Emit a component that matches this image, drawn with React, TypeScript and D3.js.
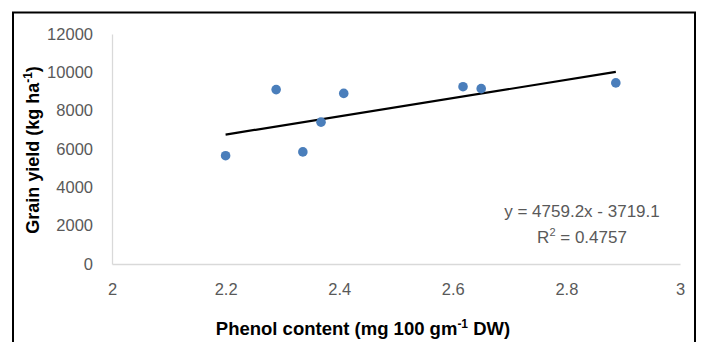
import * as d3 from 'd3';
import { useEffect, useRef } from 'react';

// phenol content (mg 100 gm-1 DW) vs grain yield (kg ha-1)
const phenol = [2.2, 2.289, 2.336, 2.368, 2.408, 2.618, 2.65, 2.887];
const grainYield = [5650, 9100, 5850, 7400, 8900, 9250, 9150, 9450];
const xTicks = [2, 2.2, 2.4, 2.6, 2.8, 3];
const yTicks = [0, 2000, 4000, 6000, 8000, 10000, 12000];
const slope = 4759.2;
const intercept = -3719.1;
const equationLabel = 'y = 4759.2x - 3719.1';
const r2Label = '0.4757';

const W = 701;
const H = 342;

const App = () => {
  const svgRef = useRef<SVGSVGElement>(null);

  useEffect(() => {
    const svg = d3.select(svgRef.current);
    svg.selectAll('*').remove();
    const font = "'Liberation Sans', Arial, sans-serif";

    const x = d3.scaleLinear([2, 3], [112, 680]);
    const y = d3.scaleLinear([0, 12000], [264, 34]);

    svg.append('rect').attr('width', W).attr('height', H).attr('fill', '#fff');
    // outer frame (bottom edge runs off the picture)
    svg.append('rect')
      .attr('x', 13).attr('y', 12.5)
      .attr('width', 682).attr('height', 360)
      .attr('fill', 'none').attr('stroke', '#000').attr('stroke-width', 2);

    // y axis
    svg.append('g')
      .attr('transform', `translate(${x(2)},0)`)
      .call(d3.axisLeft(y).tickValues(yTicks).tickSize(0).tickPadding(19).tickFormat(d3.format('d')))
      .call((g) => g.select('.domain').attr('stroke', '#d9d9d9').attr('stroke-width', 1.3))
      .call((g) => g.selectAll('.tick text').attr('font-size', 16.5).attr('font-family', font).attr('fill', '#595959'));

    // x axis
    svg.append('g')
      .attr('transform', `translate(0,${y(0)})`)
      .call(d3.axisBottom(x).tickValues(xTicks).tickSize(0).tickPadding(19).tickFormat(d3.format('~g')))
      .call((g) => g.select('.domain').attr('stroke', '#d9d9d9').attr('stroke-width', 1.3))
      .call((g) => g.selectAll('.tick text').attr('font-size', 16.5).attr('font-family', font).attr('fill', '#595959'));

    // trend line over the data range
    const [x0, x1] = d3.extent(phenol) as [number, number];
    const line = d3.line<number>().x((d) => x(d)).y((d) => y(slope * d + intercept));
    svg.append('path')
      .attr('d', line([x0, x1]))
      .attr('stroke', '#000').attr('stroke-width', 2.2).attr('fill', 'none');

    // points
    svg.append('g')
      .selectAll('circle')
      .data(phenol)
      .join('circle')
      .attr('cx', (d) => x(d))
      .attr('cy', (_, i) => y(grainYield[i]))
      .attr('r', 4.8)
      .attr('fill', '#4a7ebb');

    // equation
    svg.append('text')
      .attr('x', 582).attr('y', 217)
      .attr('text-anchor', 'middle')
      .attr('font-family', font).attr('font-size', 17).attr('fill', '#595959')
      .text(equationLabel);
    const r2 = svg.append('text')
      .attr('x', 582).attr('y', 243)
      .attr('text-anchor', 'middle')
      .attr('font-family', font).attr('font-size', 17).attr('fill', '#595959');
    r2.append('tspan').text('R');
    r2.append('tspan').attr('dy', -7).attr('font-size', 11).text('2');
    r2.append('tspan').attr('dy', 7).text(` = ${r2Label}`);

    // x title
    const xt = svg.append('text')
      .attr('x', 363).attr('y', 335)
      .attr('text-anchor', 'middle')
      .attr('font-family', font).attr('font-weight', 'bold').attr('font-size', 18.5).attr('fill', '#000');
    xt.append('tspan').text('Phenol content (mg 100 gm');
    xt.append('tspan').attr('dy', -7).attr('font-size', 12).text('-1');
    xt.append('tspan').attr('dy', 7).text(' DW)');

    // y title
    const yt = svg.append('text')
      .attr('transform', 'translate(39,150) rotate(-90)')
      .attr('text-anchor', 'middle')
      .attr('font-family', font).attr('font-weight', 'bold').attr('font-size', 18).attr('fill', '#000');
    yt.append('tspan').text('Grain yield (kg ha');
    yt.append('tspan').attr('dy', -7).attr('font-size', 12).text('-1');
    yt.append('tspan').attr('dy', 7).text(')');
  }, []);

  return (
    <svg
      ref={svgRef}
      width={W}
      height={H}
      style={{ position: 'absolute', left: 0, top: 0, display: 'block' }}
    />
  );
};

export default App;
